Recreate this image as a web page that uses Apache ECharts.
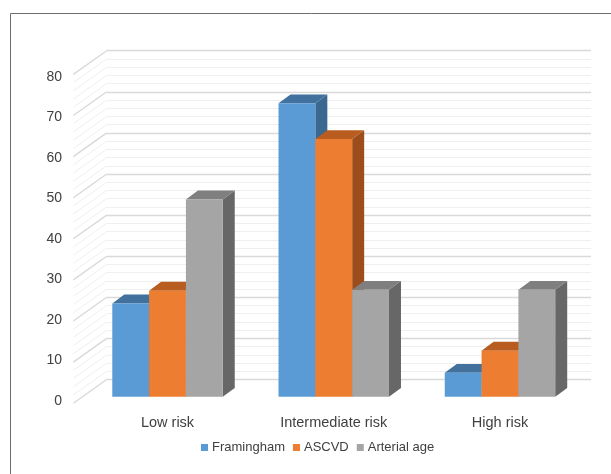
<!DOCTYPE html>
<html>
<head>
<meta charset="utf-8">
<script src="https://cdn.jsdelivr.net/npm/echarts@6/dist/echarts.min.js"></script>
<style>
  html, body { margin: 0; padding: 0; background: #fff; }
  #chart { width: 611px; height: 474px; }
</style>
</head>
<body>
<div id="chart"></div>
<script>
// Risk categories and the share (%) of patients each score places in them
const categories = ['Low risk', 'Intermediate risk', 'High risk'];
const framingham = [22.7, 71.4, 5.8];
const ascvd = [25.8, 62.7, 11.2];
const arterialAge = [48, 26, 26];
const seriesNames = ['Framingham', 'ASCVD', 'Arterial age'];

// Value axis range and the lines drawn on the walls (major every 10, minor every 2)
const yMin = 0, yMax = 80, yStep = 10;
const wallTicks = [0, 2, 4, 6, 8, 10, 12, 14, 16, 18, 20, 22, 24, 26, 28, 30, 32, 34, 36, 38,
                   40, 42, 44, 46, 48, 50, 52, 54, 56, 58, 60, 62, 64, 66, 68, 70, 72, 74, 76, 78, 80];

// Face colours: front, top, side
const palettes = [
  { front: '#5b9bd5', top: '#41719c', side: '#3a6891' },
  { front: '#ed7d31', top: '#b85c20', side: '#9c4d1b' },
  { front: '#a5a5a5', top: '#7f7f7f', side: '#676767' }
];

// Oblique projection offsets
const WALL_DEPTH = [-33.4, 23.7];   // back wall -> front edge of side wall
const BAR_DEPTH = [12, -8.8];       // bar front face -> bar back face
const BAR_SHARE = 0.2215;           // each bar's width as a share of the category band
const textColor = '#404040';

function barRenderer(k) {
  const pal = palettes[k];
  return function (params, api) {
    const i = api.value(0);
    const v = api.value(1);
    const top = api.coord([i, v]);
    const base = api.coord([i, 0]);
    const band = api.size([1, 0])[0];
    const w = band * BAR_SHARE;
    const x0 = top[0] - 1.5 * w + k * w;
    const x1 = x0 + w;
    const yT = top[1], yB = base[1];
    const dx = BAR_DEPTH[0], dy = BAR_DEPTH[1];
    return {
      type: 'group',
      children: [
        { type: 'polygon', shape: { points: [[x1, yT], [x1 + dx, yT + dy], [x1 + dx, yB + dy], [x1, yB]] },
          style: { fill: pal.side } },
        { type: 'polygon', shape: { points: [[x0, yT], [x1, yT], [x1 + dx, yT + dy], [x0 + dx, yT + dy]] },
          style: { fill: pal.top } },
        { type: 'rect', shape: { x: x0, y: yT, width: w, height: yB - yT },
          style: { fill: pal.front } }
      ]
    };
  };
}

function wallRenderer(params, api) {
  const v = api.value(0);
  const back = api.coord([0, v]);
  const front = [back[0] + WALL_DEPTH[0], back[1] + WALL_DEPTH[1]];
  const major = v % 10 === 0;
  return {
    type: 'line',
    shape: { x1: front[0], y1: front[1], x2: back[0], y2: back[1] },
    style: { stroke: major ? '#d9d9d9' : '#efefef', lineWidth: major ? 1.4 : 1 }
  };
}

const seriesData = [framingham, ascvd, arterialAge];

const option = {
  backgroundColor: '#ffffff',
  animation: false,
  textStyle: { fontFamily: '"Liberation Sans", Arial, sans-serif', color: textColor },
  graphic: [{
    type: 'rect', silent: true, z: 100,
    shape: { x: 10.5, y: 13.5, width: 700, height: 600 },
    style: { fill: 'none', stroke: '#6e6e6e', lineWidth: 1 }
  }],
  legend: {
    data: seriesNames,
    left: 196, top: 436,
    icon: 'rect', itemWidth: 7, itemHeight: 7, itemGap: 8,
    textStyle: { fontSize: 13, color: textColor, padding: [0, 0, 0, -1] }
  },
  grid: [
    // back wall
    { left: 106.7, right: 20, top: 50.7, bottom: 94.5 },
    // front edge of the side wall, carrying the value labels
    { left: 73, right: 20, top: 77, bottom: 73 },
    // plane of the bars' front faces
    { left: 84.4, right: 27.9, top: 67.9, bottom: 77.3 }
  ],
  xAxis: [
    { gridIndex: 0, type: 'value', min: 0, max: 1, show: false },
    { gridIndex: 1, type: 'value', min: 0, max: 1, show: false },
    { gridIndex: 2, type: 'category', data: categories,
      axisLine: { show: false }, axisTick: { show: false },
      axisLabel: { margin: 18.5, fontSize: 14.5, color: textColor } }
  ],
  yAxis: [
    { gridIndex: 0, type: 'value', min: yMin, max: yMax, interval: yStep,
      axisLine: { show: false }, axisTick: { show: false }, axisLabel: { show: false },
      splitLine: { show: true, lineStyle: { color: '#d9d9d9', width: 1.4 } },
      minorTick: { show: false, splitNumber: 5 },
      minorSplitLine: { show: true, lineStyle: { color: '#efefef', width: 1 } } },
    { gridIndex: 1, type: 'value', min: yMin, max: yMax, interval: yStep,
      axisLine: { show: false }, axisTick: { show: false }, splitLine: { show: false },
      axisLabel: { margin: 11, fontSize: 14, color: textColor } },
    { gridIndex: 2, type: 'value', min: yMin, max: yMax, interval: yStep, show: false,
      splitLine: { show: false } }
  ],
  series: [
    {
      type: 'custom', name: 'side wall', silent: true, z: 1,
      xAxisIndex: 0, yAxisIndex: 0,
      data: wallTicks.map(v => [v]),
      encode: { y: 0 },
      renderItem: wallRenderer
    }
  ].concat(seriesNames.map((name, k) => ({
    type: 'custom', name: name, z: 2 + k,
    xAxisIndex: 2, yAxisIndex: 2,
    itemStyle: { color: palettes[k].front },
    data: categories.map((c, i) => [i, seriesData[k][i]]),
    encode: { x: 0, y: 1 },
    renderItem: barRenderer(k)
  })))
};

const chart = echarts.init(document.getElementById('chart'), null, { renderer: 'canvas' });
chart.setOption(option);
</script>
</body>
</html>
